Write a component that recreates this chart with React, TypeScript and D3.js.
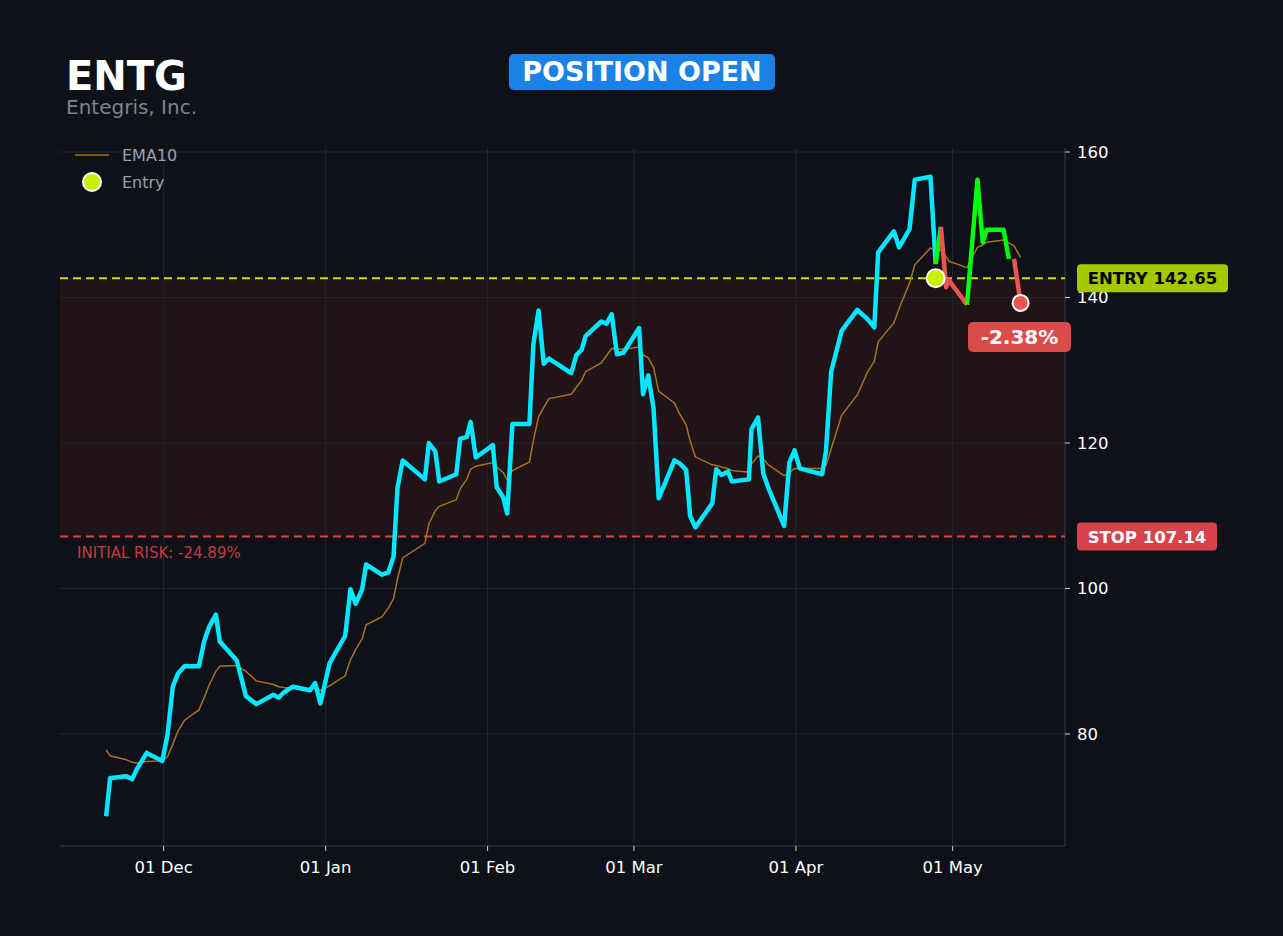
import * as d3 from "d3";

// ENTG trade chart: close line (cyan until entry, then green/red legs), EMA10,
// entry / stop levels with the risk band between them.

const TICKER = "ENTG";
const COMPANY = "Entegris, Inc.";
const ENTRY = 142.65;
const STOP = 107.14;

const dates = [
  "2024-11-20T00", "2024-11-20T18", "2024-11-23T18", "2024-11-25T00", "2024-11-25T18",
  "2024-11-27T18", "2024-11-30T18", "2024-12-01T18", "2024-12-02T18", "2024-12-03T18",
  "2024-12-05T00", "2024-12-07T18", "2024-12-08T18", "2024-12-09T18", "2024-12-11T00",
  "2024-12-11T18", "2024-12-15T00", "2024-12-16T18", "2024-12-18T18", "2024-12-22T00",
  "2024-12-23T00", "2024-12-24T00", "2024-12-25T18", "2024-12-29T00", "2024-12-30T00",
  "2024-12-31T00", "2025-01-01T18", "2025-01-04T18", "2025-01-05T18", "2025-01-06T18",
  "2025-01-08T00", "2025-01-08T18", "2025-01-11T18", "2025-01-13T00", "2025-01-14T00",
  "2025-01-14T18", "2025-01-15T18", "2025-01-20T00", "2025-01-20T18", "2025-01-22T00",
  "2025-01-22T18", "2025-01-26T00", "2025-01-26T18", "2025-01-28T00", "2025-01-28T18",
  "2025-01-29T18", "2025-02-02T00", "2025-02-02T18", "2025-02-04T00", "2025-02-04T18",
  "2025-02-05T18", "2025-02-09T00", "2025-02-09T18", "2025-02-10T18", "2025-02-11T18",
  "2025-02-12T18", "2025-02-17T00", "2025-02-18T00", "2025-02-19T00", "2025-02-19T18",
  "2025-02-22T18", "2025-02-23T18", "2025-02-24T18", "2025-02-25T18", "2025-02-27T00",
  "2025-03-02T00", "2025-03-02T18", "2025-03-03T18", "2025-03-04T18", "2025-03-05T18",
  "2025-03-08T18", "2025-03-09T18", "2025-03-11T00", "2025-03-11T18", "2025-03-12T18",
  "2025-03-16T00", "2025-03-16T18", "2025-03-17T18", "2025-03-19T00", "2025-03-19T18",
  "2025-03-23T00", "2025-03-23T12", "2025-03-24T18", "2025-03-25T18", "2025-03-26T18",
  "2025-03-29T18", "2025-03-30T18", "2025-03-31T18", "2025-04-01T18", "2025-04-06T00",
  "2025-04-06T18", "2025-04-07T18", "2025-04-09T18", "2025-04-12T18", "2025-04-14T18",
  "2025-04-16T00", "2025-04-16T18", "2025-04-19T18", "2025-04-20T18", "2025-04-22T18",
  "2025-04-23T18", "2025-04-26T18", "2025-04-27T18",
  // after entry
  "2025-04-28T18", "2025-04-29T18", "2025-04-30T06", "2025-05-03T18", "2025-05-05T18",
  "2025-05-06T18", "2025-05-07T12", "2025-05-10T18", "2025-05-11T18", "2025-05-12T18",
  "2025-05-14T00",
];

const closes = [
  68.7, 73.9, 74.2, 73.8, 75.0, 77.4, 76.3, 79.9, 86.5, 88.3,
  89.3, 89.3, 92.7, 94.8, 96.4, 92.7, 90.1, 85.2, 84.1, 85.4,
  85.0, 85.7, 86.5, 86.0, 87.0, 84.2, 89.7, 93.5, 99.9, 97.9,
  99.9, 103.3, 101.9, 102.2, 104.4, 113.8, 117.6, 115.0, 120.0, 118.8,
  114.7, 115.7, 120.6, 120.8, 122.9, 118.0, 119.7, 113.9, 112.5, 110.3,
  122.6, 122.6, 133.5, 138.2, 130.9, 131.6, 129.6, 132.1, 132.8, 134.7,
  136.7, 136.4, 137.7, 132.2, 132.4, 135.8, 126.7, 129.3, 124.8, 112.4,
  117.6, 117.2, 116.3, 110.0, 108.4, 111.7, 116.4, 115.6, 116.1, 114.7,
  115.0, 121.9, 123.5, 115.8, 113.8, 108.6, 117.3, 119.0, 116.5, 115.7,
  118.8, 129.8, 135.4, 138.3, 137.0, 135.9, 146.2, 149.1, 146.9, 149.4,
  156.2, 156.6, 144.6,
  149.7, 141.4, 142.4, 139.0, 156.2, 147.6, 149.3, 149.3, 145.3, 145.3,
  139.26,
];

const ema10 = [
  77.8, 77.0, 76.5, 76.1, 76.0, 76.2, 76.3, 76.9, 78.6, 80.4,
  81.9, 83.3, 85.0, 86.8, 88.6, 89.3, 89.4, 88.6, 87.3, 86.8,
  86.5, 86.4, 86.3, 86.2, 86.3, 86.0, 86.6, 88.0, 90.2, 91.6,
  93.1, 95.0, 96.1, 97.3, 98.6, 101.3, 104.2, 106.2, 108.9, 110.7,
  111.3, 112.2, 113.7, 115.0, 116.4, 116.8, 117.3, 116.7, 115.9, 114.9,
  116.2, 117.4, 120.3, 123.6, 124.9, 126.1, 126.7, 127.7, 128.6, 129.8,
  131.0, 132.0, 133.0, 132.9, 132.9, 133.2, 132.1, 131.7, 130.4, 127.1,
  125.5, 124.0, 122.5, 120.3, 118.1, 117.0, 116.9, 116.7, 116.5, 116.2,
  116.0, 117.1, 118.2, 117.8, 117.0, 115.5, 115.9, 116.5, 116.5, 116.5,
  116.9, 119.2, 123.8, 126.6, 129.8, 131.2, 133.9, 136.5, 138.5, 142.0,
  144.5, 146.8, 146.4,
  146.5, 145.6, 145.0, 144.1, 146.9, 147.2, 147.6, 147.9, 147.5, 147.1,
  145.5,
];

const ENTRY_INDEX = 102;
// legs after entry: [first index, last index, direction]
const legs: [number, number, "up" | "down"][] = [
  [102, 103, "up"],
  [103, 106, "down"],
  [106, 111, "up"],
  [112, 113, "down"],
];

const xTicks = ["2024-12-01", "2025-01-01", "2025-02-01", "2025-03-01", "2025-04-01", "2025-05-01"];
const yTicks = [80, 100, 120, 140, 160];
const xDomain = ["2024-11-11T04", "2025-05-22T12"];
const yDomain = [64.6, 160.55];

const BG = "#0e1117";
const GRID = "#22262d";
const CYAN = "#00e8ff";
const GREEN = "#00ff0a";
const RED = "#ec5454";
const EMA_C = "#a8711c";
const LIME = "#c8f000";
const FONT = "DejaVu Sans, sans-serif";

const parseT = d3.timeParse("%Y-%m-%dT%H");
const parseD = d3.timeParse("%Y-%m-%d");
const fmt = d3.timeFormat("%d %b");

export default function App() {
  const W = 1283, H = 936;
  const m = { left: 60, right: 1065, top: 148, bottom: 846 };
  const pts = dates.map((d, i) => ({ t: parseT(d)!, c: closes[i], e: ema10[i] }));

  const x = d3.scaleTime().domain(xDomain.map((d) => parseT(d)!)).range([m.left, m.right]);
  const y = d3.scaleLinear().domain(yDomain).range([m.bottom, m.top]);

  const close = d3.line<typeof pts[0]>().x((p) => x(p.t)).y((p) => y(p.c));
  const ema = d3.line<typeof pts[0]>().x((p) => x(p.t)).y((p) => y(p.e));

  const last = pts[pts.length - 1];
  const entryPt = pts[ENTRY_INDEX];
  const pct = (last.c / ENTRY - 1) * 100;
  const risk = (STOP / ENTRY - 1) * 100;

  return (
    <div style={{ position: "absolute", left: 0, top: 0 }}>
      <svg width={W} height={H} style={{ display: "block" }} fontFamily={FONT}>
        <rect width={W} height={H} fill={BG} />

        <text x={66} y={90} fontSize={40} fontWeight="bold" fill="#ffffff">{TICKER}</text>
        <text x={66} y={114} fontSize={20} fill="#7d838c">{COMPANY}</text>

        <rect x={509} y={54} width={266} height={36} rx={5} fill="#1a82e6" />
        <text x={642} y={81} fontSize={27} fontWeight="bold" fill="#ffffff" textAnchor="middle">POSITION OPEN</text>

        {/* risk band */}
        <rect x={m.left} y={y(ENTRY)} width={m.right - m.left} height={y(STOP) - y(ENTRY)} fill="#e63c3c" fillOpacity={0.09} />

        {/* grid */}
        {yTicks.map((t) => (
          <line key={`gy${t}`} x1={m.left} x2={m.right} y1={y(t)} y2={y(t)} stroke={GRID} />
        ))}
        {xTicks.map((t) => (
          <line key={`gx${t}`} x1={x(parseD(t)!)} x2={x(parseD(t)!)} y1={m.top} y2={m.bottom} stroke={GRID} />
        ))}

        {/* spines + ticks */}
        <line x1={m.right} x2={m.right} y1={m.top} y2={m.bottom} stroke="#3a3f47" />
        <line x1={m.left} x2={m.right} y1={m.bottom} y2={m.bottom} stroke="#3a3f47" />
        {yTicks.map((t) => (
          <g key={`ty${t}`}>
            <line x1={m.right} x2={m.right + 5} y1={y(t)} y2={y(t)} stroke="#d0d0d0" />
            <text x={m.right + 12} y={y(t) + 6} fontSize={16.5} fill="#ffffff">{t}</text>
          </g>
        ))}
        {xTicks.map((t) => (
          <g key={`tx${t}`}>
            <line x1={x(parseD(t)!)} x2={x(parseD(t)!)} y1={m.bottom} y2={m.bottom + 5} stroke="#d0d0d0" />
            <text x={x(parseD(t)!)} y={873} fontSize={16.5} fill="#ffffff" textAnchor="middle">{fmt(parseD(t)!)}</text>
          </g>
        ))}

        {/* levels */}
        <line x1={m.left} x2={m.right} y1={y(ENTRY)} y2={y(ENTRY)} stroke="#c9dc1a" strokeWidth={2} strokeDasharray="8 5" />
        <line x1={m.left} x2={m.right} y1={y(STOP)} y2={y(STOP)} stroke="#dc4448" strokeWidth={2} strokeDasharray="8 5" />
        <text x={77} y={y(STOP) + 21} fontSize={15} fill="#c83a40">INITIAL RISK: {risk.toFixed(2)}%</text>

        {/* series */}
        <path d={ema(pts) ?? ""} fill="none" stroke={EMA_C} strokeWidth={1.5} />
        <path d={close(pts.slice(0, ENTRY_INDEX + 1)) ?? ""} fill="none" stroke={CYAN} strokeWidth={4.5} strokeLinejoin="round" />
        {legs.map(([a, b, dir], i) => (
          <path key={i} d={close(pts.slice(a, b + 1)) ?? ""} fill="none" stroke={dir === "up" ? GREEN : RED} strokeWidth={4.5} strokeLinejoin="round" />
        ))}

        {/* markers */}
        <circle cx={x(entryPt.t)} cy={y(ENTRY)} r={9} fill={LIME} stroke="#ffffff" strokeWidth={2} />
        <circle cx={x(last.t)} cy={y(last.c)} r={8} fill={RED} stroke="#ffffff" strokeWidth={2} />

        {/* right labels */}
        <rect x={1077} y={y(ENTRY) - 14} width={151} height={28} rx={4} fill="#a4c800" />
        <text x={1152.5} y={y(ENTRY) + 6} fontSize={16.5} fontWeight="bold" fill="#000000" textAnchor="middle">ENTRY {ENTRY.toFixed(2)}</text>
        <rect x={1077} y={y(STOP) - 14} width={140} height={28} rx={4} fill="#d6434a" />
        <text x={1147} y={y(STOP) + 6} fontSize={16.5} fontWeight="bold" fill="#ffffff" textAnchor="middle">STOP {STOP.toFixed(2)}</text>

        <rect x={968} y={322} width={103} height={30} rx={5} fill="#db4b4b" />
        <text x={1019.5} y={344} fontSize={20} fontWeight="bold" fill="#ffffff" textAnchor="middle">{pct.toFixed(2)}%</text>

        {/* legend */}
        <line x1={75} x2={109} y1={155} y2={155} stroke={EMA_C} strokeWidth={1.5} />
        <text x={122} y={161} fontSize={16} fill="#9aa0a8">EMA10</text>
        <circle cx={92} cy={182} r={9} fill={LIME} stroke="#ffffff" strokeWidth={2} />
        <text x={122} y={188} fontSize={16} fill="#9aa0a8">Entry</text>
      </svg>
    </div>
  );
}
